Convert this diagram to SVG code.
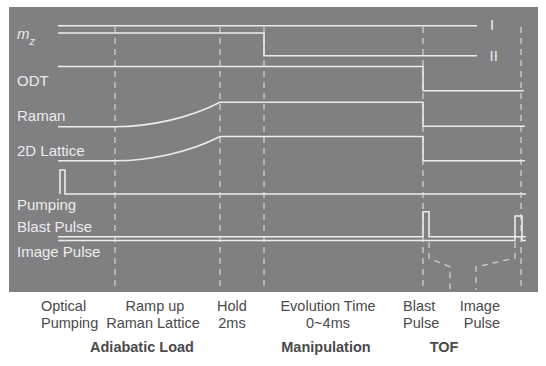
<svg xmlns="http://www.w3.org/2000/svg" width="546" height="366" viewBox="0 0 546 366">
<style>
.sig{fill:none;stroke:#ececec;stroke-width:1.6}
.dash{fill:none;stroke:#cfcfcf;stroke-width:1.3;stroke-dasharray:6,5}
.lbl{font-family:"Liberation Sans",Arial,sans-serif;font-size:15px;fill:#ececec}
.cap{font-family:"Liberation Sans",Arial,sans-serif;font-size:14.5px;fill:#4a4a4a}
.bold{font-family:"Liberation Sans",Arial,sans-serif;font-size:14.5px;font-weight:bold;fill:#4a4a4a}
</style>
<rect x="0" y="0" width="546" height="366" fill="#ffffff"/>
<rect id="panel" x="9" y="7" width="529" height="285" fill="#808083"/>
<g id="markers">
<path class="dash" d="M115,27V290M220,27V290M264,27V290M423,27V290M521,27V290"/>
<path class="dash" d="M429,242V258L450,267V290M515,242V258L476,267V290"/>
</g>
<g id="connectors">
<path id="mz1" class="sig" d="M58,25.7H477"/>
<path id="mz2" class="sig" d="M58,33H264V55.7H477"/>
<path id="odt" class="sig" d="M58,66.5H423V90.7H524"/>
<path id="raman" class="sig" d="M58,126.7H115C150,126.7 190,118 220,102.3H423V126.3H525"/>
<path id="lattice" class="sig" d="M58,160.7H115C150,160.7 190,152 220,136.5H423V160.7H525"/>
<path id="pumping" class="sig" d="M60,194V170H65V194H526"/>
<path id="blast" class="sig" d="M58,236.7H423V211.7H429V236.7H526"/>
<path id="image" class="sig" d="M58,240.5H515V216H522V240.5H526"/>
</g>
<g id="labels">
<text class="lbl" x="17" y="39" font-style="italic" font-size="14">m<tspan font-size="11" dy="6">z</tspan></text>
<text class="lbl" x="490" y="30" font-size="14">I</text>
<text class="lbl" x="489.5" y="61" font-size="14">II</text>
<text class="lbl" x="17" y="85.7">ODT</text>
<text class="lbl" x="17" y="121">Raman</text>
<text class="lbl" x="17" y="156">2D Lattice</text>
<text class="lbl" x="17" y="210">Pumping</text>
<text class="lbl" x="17" y="232">Blast Pulse</text>
<text class="lbl" x="17" y="257">Image Pulse</text>
</g>
<g id="phases">
<text class="cap" x="41" y="311">Optical</text>
<text class="cap" x="41" y="328">Pumping</text>
<text class="cap" x="155" y="311" text-anchor="middle">Ramp up</text>
<text class="cap" x="153" y="328" text-anchor="middle">Raman Lattice</text>
<text class="cap" x="232" y="311" text-anchor="middle">Hold</text>
<text class="cap" x="232" y="328" text-anchor="middle">2ms</text>
<text class="cap" x="328" y="311" text-anchor="middle">Evolution Time</text>
<text class="cap" x="328" y="328" text-anchor="middle">0~4ms</text>
<text class="cap" x="403" y="311">Blast</text>
<text class="cap" x="403" y="328">Pulse</text>
<text class="cap" x="500" y="311" text-anchor="end">Image</text>
<text class="cap" x="500" y="328" text-anchor="end">Pulse</text>
<text class="bold" x="142" y="352" text-anchor="middle">Adiabatic Load</text>
<text class="bold" x="326" y="352" text-anchor="middle">Manipulation</text>
<text class="bold" x="444" y="352" text-anchor="middle">TOF</text>
</g>
</svg>
